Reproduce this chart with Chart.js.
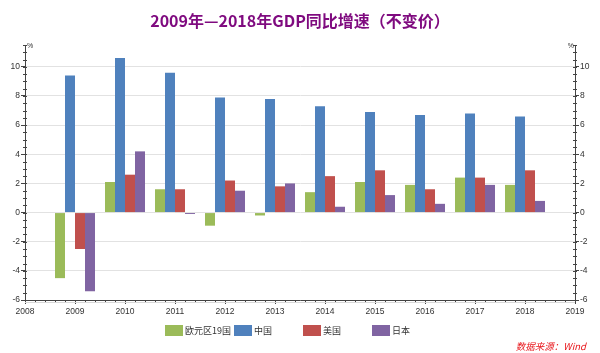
<!DOCTYPE html>
<html>
<head>
<meta charset="utf-8">
<script src="https://cdn.jsdelivr.net/npm/chart.js@4/dist/chart.umd.min.js"></script>
<style>
  html, body { margin: 0; padding: 0; background: #fff; }
  #wrap { width: 600px; height: 353px; }
</style>
</head>
<body>
<div id="wrap"><canvas id="gdpChart"></canvas></div>
<script>
const years = [2009, 2010, 2011, 2012, 2013, 2014, 2015, 2016, 2017, 2018];
const seriesNames = ["欧元区19国", "中国", "美国", "日本"];
const euroArea = [-4.5, 2.1, 1.6, -0.9, -0.2, 1.4, 2.1, 1.9, 2.4, 1.9];
const china = [9.4, 10.6, 9.6, 7.9, 7.8, 7.3, 6.9, 6.7, 6.8, 6.6];
const usa = [-2.5, 2.6, 1.6, 2.2, 1.8, 2.5, 2.9, 1.6, 2.4, 2.9];
const japan = [-5.4, 4.2, -0.1, 1.5, 2.0, 0.4, 1.2, 0.6, 1.9, 0.8];
const yearTicks = [2008, 2009, 2010, 2011, 2012, 2013, 2014, 2015, 2016, 2017, 2018, 2019];
const valueTicks = [-6, -4, -2, 0, 2, 4, 6, 8, 10];
const colors = ["#9bbb59", "#4f81bd", "#c0504d", "#8064a2"];

const tickFont = { family: "'Liberation Sans', Arial, sans-serif", size: 8.5 };

function toPoints(values) {
  return values.map((v, i) => ({ x: years[i], y: v }));
}

// minor ticks, % marks, legend and source note
const extras = {
  id: "extras",
  afterDraw(chart) {
    const { ctx, scales: { x, y, y2 } } = chart;
    ctx.save();
    ctx.strokeStyle = "#444";
    ctx.lineWidth = 1;
    ctx.beginPath();
    for (let v = x.min; v <= x.max + 1e-9; v += 0.2) {
      const px = Math.round(x.getPixelForValue(v)) + 0.5;
      ctx.moveTo(px, x.top);
      ctx.lineTo(px, x.top + 3);
    }
    for (let v = y.min; v <= y.max + 1e-9; v += 0.5) {
      const py = Math.round(y.getPixelForValue(v)) + 0.5;
      ctx.moveTo(y.right - 2, py);
      ctx.lineTo(y.right + 2, py);
      ctx.moveTo(y2.left - 2, py);
      ctx.lineTo(y2.left + 2, py);
    }
    ctx.stroke();
    // light line under the x axis
    ctx.strokeStyle = "#d8d8d8";
    ctx.beginPath();
    ctx.moveTo(x.left, x.top + 2.5);
    ctx.lineTo(x.right, x.top + 2.5);
    ctx.stroke();

    ctx.fillStyle = "#333";
    ctx.font = "7px 'Liberation Sans', Arial, sans-serif";
    ctx.textBaseline = "middle";
    ctx.textAlign = "left";
    ctx.fillText("%", y.right + 2, chart.chartArea.top + 1);
    ctx.textAlign = "right";
    ctx.fillText("%", y2.left - 1, chart.chartArea.top + 1);

    // legend
    const slot = 69;
    let left = 300 - slot * chart.data.datasets.length / 2;
    ctx.font = "9px 'Noto Sans CJK SC', sans-serif";
    ctx.textAlign = "left";
    chart.data.datasets.forEach(ds => {
      ctx.fillStyle = ds.backgroundColor;
      ctx.fillRect(left + 3, 325, 18, 11);
      ctx.fillStyle = "#333";
      ctx.fillText(ds.label, left + 23, 331);
      left += slot;
    });

    ctx.fillStyle = "#e8161b";
    ctx.font = "italic 9.5px 'Noto Sans CJK SC', sans-serif";
    ctx.textAlign = "right";
    ctx.fillText("数据来源：Wind", 586, 346);
    ctx.restore();
  }
};

const valueAxis = position => ({
  type: "linear",
  position: position,
  min: -6,
  max: 11.5,
  afterBuildTicks: s => { s.ticks = valueTicks.map(v => ({ value: v })); },
  afterFit: s => { s.width = 25; },
  border: { color: "#444" },
  grid: {
    drawOnChartArea: position === "left",
    color: "#e2e2e2",
    tickColor: "#444",
    tickLength: 4
  },
  ticks: { font: tickFont, color: "#333", padding: 1, autoSkip: false }
});

new Chart(document.getElementById("gdpChart"), {
  type: "bar",
  data: {
    datasets: [euroArea, china, usa, japan].map((vals, i) => ({
      label: seriesNames[i],
      data: toPoints(vals),
      backgroundColor: colors[i],
      yAxisID: "y"
    }))
  },
  options: {
    responsive: true,
    maintainAspectRatio: false,
    animation: false,
    layout: { padding: { left: 0, right: 0, top: 0, bottom: 33 } },
    datasets: { bar: { categoryPercentage: 0.8, barPercentage: 1.0 } },
    plugins: {
      legend: { display: false },
      tooltip: { enabled: false },
      title: {
        display: true,
        text: "2009年—2018年GDP同比增速（不变价）",
        color: "#7f0a7f",
        font: { family: "'Noto Sans CJK SC', sans-serif", size: 16, weight: "bold" },
        padding: { top: 11, bottom: 14.8 }
      }
    },
    scales: {
      x: {
        type: "linear",
        offset: false,
        min: 2008,
        max: 2019,
        afterBuildTicks: s => { s.ticks = yearTicks.map(v => ({ value: v })); },
        afterFit: s => { s.height = 20; },
        border: { color: "#444" },
        grid: { drawOnChartArea: false, offset: false, tickColor: "#444", tickLength: 4 },
        ticks: { font: tickFont, color: "#333", padding: 3, autoSkip: false, maxRotation: 0, callback: v => String(v) }
      },
      y: valueAxis("left"),
      y2: valueAxis("right")
    }
  },
  plugins: [extras]
});
</script>
</body>
</html>
